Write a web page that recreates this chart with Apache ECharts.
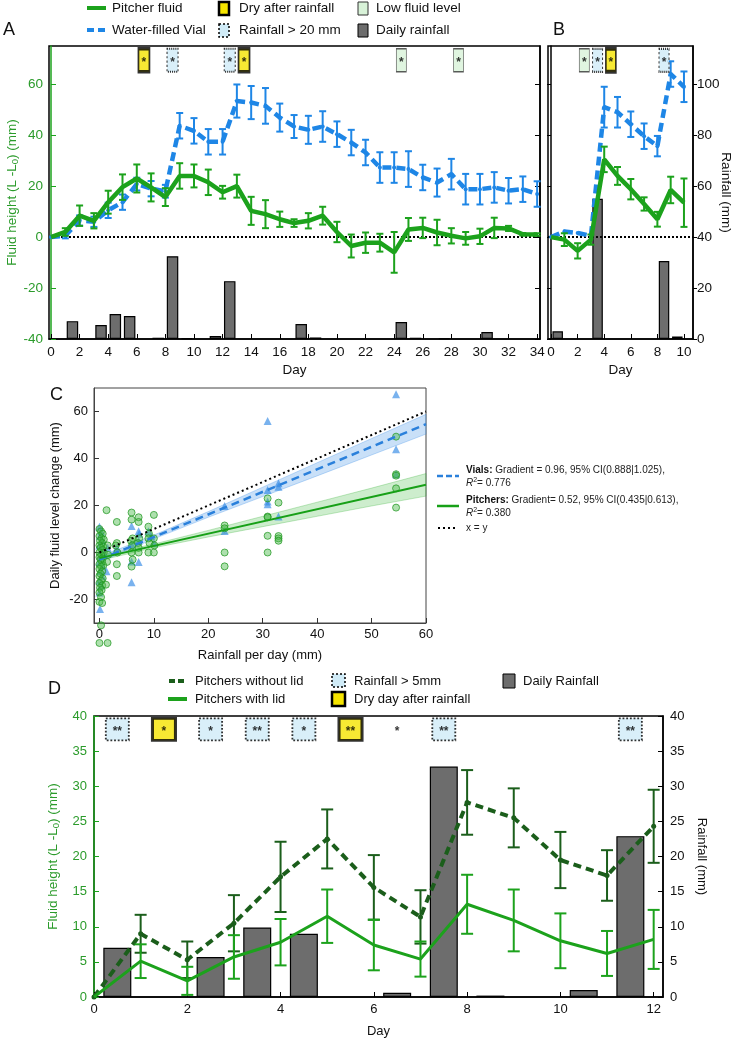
<!DOCTYPE html>
<html lang="en">
<head>
    <meta charset="UTF-8">
    <title>Pitcher fluid height and rainfall</title>
    <script src="https://cdn.jsdelivr.net/npm/echarts@6/dist/echarts.min.js"></script>
    <style>
        html, body { margin: 0; padding: 0; background: #fff; }
        #chart { width: 737px; height: 1041px; }
    </style>
</head>
<body>
<div id="chart"></div>
<script>
    // ---------- panel A : 34 day field record ----------
    var daysA = [0,1,2,3,4,5,6,7,8,9,10,11,12,13,14,15,16,17,18,19,20,21,22,23,24,25,26,27,28,29,30,31,32,33,34];
    var pitcherA = [0,2,8.4,6.4,13.7,19.6,23,19.5,15.7,24,24,21.5,17.6,20,10.3,9,7,5.5,6.4,8.4,2,-3.5,-2.2,-2.2,-6,3,3.6,1.8,0.5,-0.5,0.3,3.6,3.4,1.1,1];
    var pitcherErrA = [0,1.5,4,3,4.5,5,5.5,5.5,3.5,5,4.5,5,2.5,4.5,5.5,5.5,3,1.5,3,3.5,4,4.5,4,3.5,8,4.5,4,5,3,2.5,3,4,1,0.5,0.5];
    var vialA = [0,0.5,6.5,6,10.5,13.7,20.8,19,18,43.7,41.7,37.4,37.4,53.4,52.8,51.5,46.9,43.4,42.1,43.4,40.4,37.1,33.2,27.3,27.3,26.7,23.4,21.4,24.7,18.8,18.8,19.5,18.2,18.8,16.9];
    var vialErrA = [0,1,2,2,3,3,2.5,3,2.5,5,5,5,5,6.5,6.5,7,5.5,4.5,5.5,6,5,5,5,6,6,7,5,5.5,6,6,6,6,5,5,5];
    var rainDaysA = [1.5,3.5,4.5,5.5,7.5,8.5,9.5,11.5,12.5,17.5,18.5,24.5,25.5,27.5,30.5];
    var rainA = [7,5.5,9.8,9,0.5,32.5,0.3,1.2,22.7,5.9,0.6,6.7,0.5,0.2,2.7];
    var dryDaysA = [6.5, 13.5];
    var bigRainDaysA = [8.5, 12.5];
    var lowLevelDaysA = [24.5, 28.5];

    // ---------- panel B : 10 day record ----------
    var daysB = [0,1,2,3,4,5,6,7,8,9,10];
    var pitcherB = [0,-1,-5.4,-1,30.5,24,18.8,13,7,18.5,13.5];
    var pitcherErrB = [0,2.5,3,2,5,3.5,4,2.6,2.9,5.2,9.5];
    var vialB = [0,2.2,1.6,0.5,51,49,44.3,39.6,35.7,64,59];
    var vialErrB = [0,0,0,0,8,6,5,5,4,5,6];
    var rainDaysB = [0.5,3.5,8.5,9.5];
    var rainB = [3,55,30.6,1];
    var lowLevelDaysB = [2.5];
    var bigRainDaysB = [3.5, 8.5];
    var dryDaysB = [4.5];

    // ---------- panel C : daily change vs rainfall ----------
    var pitchX = [0,0.3,0.6,0,0.4,0.8,0.1,0.5,0,0.7,0.2,0.5,0,0.8,0.3,0,0.6,0.2,0.5,0,0.7,0.3,0,0.5,0.2,0,0.6,0.3,0,0.5,0.1,0.4,0,0.3,0,0.5,0.3,0,1.5,
        1.3,1.5,1.6,1.4,1.2,
        3.2,3.2,3.0,3.3,3.2,3.2,
        5.9,5.9,6.1,5.8,6.0,5.9,6.1,5.9,
        7.2,7.2,7.3,7.1,7.2,7.2,
        9,9.1,9,9.2,9,10,10,10.1,10,
        23,23,23,23,
        30.9,30.9,30.9,30.9,30.9,
        32.9,32.9,32.9,32.9,
        54.5,54.5,54.5,54.5,54.5];
    var pitchY = [10,9,8,7,6,5.5,5,4,3,2.5,2,1,0,0,-1,-2,-2.5,-3,-4,-5,-5.5,-6,-7,-8,-9,-10,-11,-12,-13,-14,-15,-16,-17,-19,-21,-21.5,-31,-38.5,-38.5,
        18,3,-1,-4,-13.7,
        13,4,3,0,-5,-10,
        17,14,6,5,3,0,-3,-6,
        15,13,6,4,2,0,
        11,8,6,4,0,16,6,3,0,
        11.5,10.3,0,-5.9,
        23,15.3,15,7.1,0,
        21.2,7,6,5,
        49.3,33.3,32.7,27.3,19.1];
    var vialX = [0,0.3,0.1,0.5,0,0.4,0.2,0,0.6,0.2,0.5,0,0.3,0,0.1,1.5,1.3,
        3.2,
        5.9,5.9,5.9,5.9,
        7.2,7.3,7.2,7.2,
        9,9.5,10,
        23,23,
        30.9,30.9,30.9,30.9,
        32.9,32.9,32.9,
        54.5,54.5,54.5];
    var vialY = [11,9,7,5,3,1,-2,-4,-6,-8,-10,-12,-14,-17,-24,2,-8,
        2,
        11.3,3.5,-3.8,-12.7,
        9,8,5,-4,
        9,7,4,
        19.8,9.2,
        56,26.6,21.7,20.5,
        29.5,28,15.3,
        67.3,43.9,33.3];
    var fitX = [0, 60];
    var vialFitY = [-3, 54.6];
    var pitchFitY = [-2.4, 28.8];
    var identityY = [0, 60];
    var bandX = [0,10,20,30,40,50,60];
    var vialBandLo = [-4.2,5.8,15,23.8,32.6,41.5,50.4];
    var vialBandHi = [-1.8,7.4,17.4,27.8,38.2,48.5,58.8];
    var pitchBandLo = [-3.4,2.0,6.6,11,15.4,19.8,24];
    var pitchBandHi = [-1.4,3.6,9.4,15.4,21.4,27.4,33.6];

    // ---------- panel D : lid experiment ----------
    var daysD = [0,1,2,3,4,5,6,7,8,9,10,11,12];
    var noLid = [0,9,5.3,10.5,17.1,22.5,15.6,11.4,27.7,25.5,19.5,17.3,24.3];
    var noLidErr = [0,2.7,2.6,4,5,4.2,4.6,3.8,4.6,4.2,4,3.6,5.2];
    var withLid = [0,5.1,2.3,5.7,7.8,11.5,7.4,5.4,13.2,10.9,8,6.2,8.2];
    var withLidErr = [0,2.4,2,3.1,3.3,3.8,3.6,2.5,4.2,4.4,3.9,3.2,4.2];
    var rainDaysD = [0.5,2.5,3.5,4.5,6.5,7.5,8.5,10.5,11.5];
    var rainD = [7,5.7,9.9,9,0.6,32.8,0.2,1,22.9];
    var rainBoxDaysD = [0.5,2.5,3.5,4.5,7.5,11.5];
    var rainBoxStarsD = ['**','*','**','*','**','**'];
    var dryBoxDaysD = [1.5,5.5];
    var dryBoxStarsD = ['*','**'];
    var plainStarDaysD = [6.5];

    // tick labels
    var ticksA = [0,2,4,6,8,10,12,14,16,18,20,22,24,26,28,30,32,34];
    var ticksB = [0,2,4,6,8,10];
    var fluidTicksAB = [-40,-20,0,20,40,60];
    var rainTicksAB = [0,20,40,60,80,100];
    var ticksCx = [0,10,20,30,40,50,60];
    var ticksCy = [-20,0,20,40,60];
    var ticksD = [0,2,4,6,8,10,12];

    var FONT = "'Liberation Sans', 'DejaVu Sans', sans-serif";
    var GREEN = '#1ca21c';
    var GREEN_TEXT = '#2b9b2b';
    var BLUE = '#1e86e6';
    var DARK_GREEN = '#1b5e1b';
    var GREY = '#6d6d6d';
    var YELLOW = '#f5e400';
    var PALE_BLUE = '#d0ebf7';
    var PALE_GREEN = '#d8f2d8';
    var MARK_LEVEL_AB = 69.4;
    var MARK_LEVEL_D = 38.1;

    function pairs(xs, ys) {
        return xs.map(function (x, i) { return [x, ys[i]]; });
    }
    function triples(xs, ys, zs) {
        return xs.map(function (x, i) { return [x, ys[i], zs[i]]; });
    }
    function marks(xs, level, stars) {
        return xs.map(function (x, i) { return [x, level, stars ? stars[i] : '*']; });
    }

    // vertical error bar with caps
    function errorRender(cap, width) {
        return function (params, api) {
            var x = api.value(0), y = api.value(1), e = api.value(2);
            if (!e) return { type: 'group', children: [] };
            var top = api.coord([x, y + e]);
            var bot = api.coord([x, y - e]);
            var st = { stroke: api.visual('color'), lineWidth: width };
            return {
                type: 'group',
                children: [
                    { type: 'line', shape: { x1: top[0], y1: top[1], x2: bot[0], y2: bot[1] }, style: st },
                    { type: 'line', shape: { x1: top[0] - cap, y1: top[1], x2: top[0] + cap, y2: top[1] }, style: st },
                    { type: 'line', shape: { x1: bot[0] - cap, y1: bot[1], x2: bot[0] + cap, y2: bot[1] }, style: st }
                ]
            };
        };
    }
    // confidence band polygon
    function bandRender(xs, lo, hi, edge) {
        return function (params, api) {
            if (params.dataIndex !== 0) return { type: 'group', children: [] };
            var pts = [], i;
            for (i = 0; i < xs.length; i++) pts.push(api.coord([xs[i], hi[i]]));
            for (i = xs.length - 1; i >= 0; i--) pts.push(api.coord([xs[i], lo[i]]));
            return { type: 'polygon', shape: { points: pts }, style: { fill: api.visual('color'), stroke: edge, lineWidth: 0.8 } };
        };
    }
    function errSeries(xi, yi, data, color, cap, width, z) {
        return {
            type: 'custom', xAxisIndex: xi, yAxisIndex: yi, data: data,
            renderItem: errorRender(cap, width), itemStyle: { color: color },
            encode: { x: 0, y: [1] }, z: z, silent: true
        };
    }
    function markSeries(xi, yi, data, size, style, fontSize) {
        return {
            type: 'scatter', xAxisIndex: xi, yAxisIndex: yi, data: data,
            symbol: 'rect', symbolSize: size, itemStyle: style, z: 8, silent: true,
            label: {
                show: true, position: 'inside', offset: [0, 2],
                formatter: function (p) { return p.value[2]; },
                color: '#000', fontSize: fontSize, fontWeight: 'bold', fontFamily: FONT
            }
        };
    }
    function barSeries(xi, yi, data, w) {
        return {
            type: 'bar', xAxisIndex: xi, yAxisIndex: yi, data: data, barWidth: w,
            itemStyle: { color: GREY, borderColor: '#000', borderWidth: 1.2 }, z: 1, silent: true
        };
    }

    var fluidName = '{a|Fluid height (L -L}{s|0}{a|) (mm)}';
    var fluidNameStyle = {
        color: GREEN_TEXT,
        rich: {
            a: { fontSize: 13.5, color: GREEN_TEXT, fontFamily: FONT },
            s: { fontSize: 9.5, color: GREEN_TEXT, fontFamily: FONT, padding: [7, 0, 0, 0] }
        }
    };

    var chart = echarts.init(document.getElementById('chart'));
    var option = {
        animation: false,
        textStyle: { fontFamily: FONT, color: '#111' },
        grid: [
            { left: 49, top: 46, width: 491, height: 293, show: true, borderColor: '#000', borderWidth: 1.5, containLabel: false, outerBoundsMode: 'none' },
            { left: 548, top: 46, width: 145, height: 293, show: true, borderColor: '#000', borderWidth: 1.5, containLabel: false, outerBoundsMode: 'none' },
            { left: 94, top: 388, width: 332, height: 235, show: true, borderColor: '#444', borderWidth: 1, containLabel: false, outerBoundsMode: 'none' },
            { left: 94, top: 716, width: 569, height: 281, show: true, borderColor: '#000', borderWidth: 1.5, containLabel: false, outerBoundsMode: 'none' }
        ],
        xAxis: [
            {
                gridIndex: 0, type: 'value', min: -0.14, max: 34.2,
                axisLine: { onZero: false, lineStyle: { color: '#000', width: 1.5 } },
                axisTick: { inside: true, length: 5, customValues: ticksA, lineStyle: { color: '#000' } },
                axisLabel: { customValues: ticksA, fontSize: 13.5, color: '#111', margin: 6 },
                splitLine: { show: false },
                name: 'Day', nameLocation: 'middle', nameGap: 24, nameMoveOverlap: false,
                nameTextStyle: { fontSize: 13.5, color: '#111' }
            },
            {
                gridIndex: 1, type: 'value', min: -0.23, max: 10.68,
                axisLine: { onZero: false, lineStyle: { color: '#000', width: 1.5 } },
                axisTick: { inside: true, length: 5, customValues: ticksB, lineStyle: { color: '#000' } },
                axisLabel: { customValues: ticksB, fontSize: 13.5, color: '#111', margin: 6 },
                splitLine: { show: false },
                name: 'Day', nameLocation: 'middle', nameGap: 24, nameMoveOverlap: false,
                nameTextStyle: { fontSize: 13.5, color: '#111' }
            },
            {
                gridIndex: 2, type: 'value', min: -1, max: 60,
                axisLine: { onZero: false, lineStyle: { color: '#444', width: 1 } },
                axisTick: { inside: true, length: 5, customValues: ticksCx, lineStyle: { color: '#333' } },
                axisLabel: { customValues: ticksCx, fontSize: 13, color: '#111', margin: 5 },
                splitLine: { show: false },
                name: 'Rainfall per day (mm)', nameLocation: 'middle', nameGap: 26, nameMoveOverlap: false,
                nameTextStyle: { fontSize: 13, color: '#111' }
            },
            {
                gridIndex: 3, type: 'value', min: 0, max: 12.2,
                axisLine: { onZero: false, lineStyle: { color: '#000', width: 1.5 } },
                axisTick: { inside: true, length: 5, customValues: ticksD, lineStyle: { color: '#000' } },
                axisLabel: { customValues: ticksD, fontSize: 13, color: '#111', margin: 6 },
                splitLine: { show: false },
                name: 'Day', nameLocation: 'middle', nameGap: 28, nameMoveOverlap: false,
                nameTextStyle: { fontSize: 13, color: '#111' }
            }
        ],
        yAxis: [
            { // 0: A fluid
                gridIndex: 0, type: 'value', min: -40, max: 75, position: 'left',
                axisLine: { show: true, lineStyle: { color: GREEN, width: 1.5 } },
                axisTick: { inside: true, length: 5, customValues: fluidTicksAB, lineStyle: { color: GREEN } },
                axisLabel: { customValues: fluidTicksAB, fontSize: 13.5, color: GREEN_TEXT, margin: 6 },
                splitLine: { show: false },
                name: fluidName, nameLocation: 'middle', nameGap: 28.5, nameRotate: 90, nameMoveOverlap: false,
                nameTextStyle: fluidNameStyle
            },
            { // 1: A rainfall (no labels)
                gridIndex: 0, type: 'value', min: 0, max: 115, position: 'right',
                axisLine: { show: true, lineStyle: { color: '#000', width: 1.5 } },
                axisTick: { inside: true, length: 5, customValues: rainTicksAB, lineStyle: { color: '#000' } },
                axisLabel: { show: false },
                splitLine: { show: false }
            },
            { // 2: B fluid (no labels)
                gridIndex: 1, type: 'value', min: -40, max: 75, position: 'left',
                axisLine: { show: true, lineStyle: { color: '#000', width: 1.5 } },
                axisTick: { inside: false, length: 4, customValues: fluidTicksAB, lineStyle: { color: '#000' } },
                axisLabel: { show: false },
                splitLine: { show: false }
            },
            { // 3: B rainfall
                gridIndex: 1, type: 'value', min: 0, max: 115, position: 'right',
                axisLine: { show: true, lineStyle: { color: '#000', width: 1.5 } },
                axisTick: { inside: false, length: 4, customValues: rainTicksAB, lineStyle: { color: '#000' } },
                axisLabel: { customValues: rainTicksAB, fontSize: 13.5, color: '#111', margin: 4 },
                splitLine: { show: false },
                name: 'Rainfall (mm)', nameLocation: 'middle', nameGap: 26, nameRotate: -90, nameMoveOverlap: false,
                nameTextStyle: { fontSize: 13.5, color: '#111' }
            },
            { // 4: C
                gridIndex: 2, type: 'value', min: -30, max: 70,
                axisLine: { show: true, onZero: false, lineStyle: { color: '#444', width: 1 } },
                axisTick: { inside: true, length: 5, customValues: ticksCy, lineStyle: { color: '#333' } },
                axisLabel: { customValues: ticksCy, fontSize: 13, color: '#111', margin: 6 },
                splitLine: { show: false },
                name: 'Daily fluid level change (mm)', nameLocation: 'middle', nameGap: 32, nameRotate: 90, nameMoveOverlap: false,
                nameTextStyle: { fontSize: 13, color: '#111' }
            },
            { // 5: D fluid
                gridIndex: 3, type: 'value', min: 0, max: 40, interval: 5, position: 'left',
                axisLine: { show: true, lineStyle: { color: GREEN, width: 1.5 } },
                axisTick: { inside: true, length: 5, lineStyle: { color: GREEN } },
                axisLabel: { fontSize: 13, color: GREEN_TEXT, margin: 7 },
                splitLine: { show: false },
                name: fluidName, nameLocation: 'middle', nameGap: 32.5, nameRotate: 90, nameMoveOverlap: false,
                nameTextStyle: fluidNameStyle
            },
            { // 6: D rainfall
                gridIndex: 3, type: 'value', min: 0, max: 40, interval: 5, position: 'right',
                axisLine: { show: true, lineStyle: { color: '#000', width: 1.5 } },
                axisTick: { inside: true, length: 5, lineStyle: { color: '#000' } },
                axisLabel: { fontSize: 13, color: '#111', margin: 7 },
                splitLine: { show: false },
                name: 'Rainfall (mm)', nameLocation: 'middle', nameGap: 32, nameRotate: -90, nameMoveOverlap: false,
                nameTextStyle: { fontSize: 13, color: '#111' }
            }
        ],
        series: [
            // ----- A -----
            barSeries(0, 1, pairs(rainDaysA, rainA), 11.5),
            {
                type: 'line', xAxisIndex: 0, yAxisIndex: 0, data: pairs(daysA, vialA),
                symbol: 'circle', symbolSize: 4, itemStyle: { color: BLUE },
                lineStyle: { color: BLUE, width: 4.5, type: [9, 5] }, z: 3, silent: true
            },
            errSeries(0, 0, triples(daysA, vialA, vialErrA), BLUE, 3.5, 2, 3),
            {
                type: 'line', xAxisIndex: 0, yAxisIndex: 0, data: pairs(daysA, pitcherA),
                showSymbol: false, lineStyle: { color: GREEN, width: 4.5 }, z: 4, silent: true,
                markLine: {
                    silent: true, symbol: ['none', 'none'], label: { show: false },
                    lineStyle: { color: '#000', type: 'dotted', width: 2 }, data: [{ yAxis: 0 }], z: 2
                }
            },
            errSeries(0, 0, triples(daysA, pitcherA, pitcherErrA), GREEN, 3.5, 2, 4),
            markSeries(0, 0, marks(dryDaysA, MARK_LEVEL_AB), [11, 23], { color: YELLOW, borderColor: '#000', borderWidth: 2.5 }, 12),
            markSeries(0, 0, marks(bigRainDaysA, MARK_LEVEL_AB), [11, 23], { color: PALE_BLUE, borderColor: '#000', borderWidth: 1.5, borderType: 'dotted' }, 12),
            markSeries(0, 0, marks(lowLevelDaysA, MARK_LEVEL_AB), [10, 23], { color: PALE_GREEN, borderColor: '#333', borderWidth: 1 }, 12),

            // ----- B -----
            barSeries(1, 3, pairs(rainDaysB, rainB), 10.5),
            {
                type: 'line', xAxisIndex: 1, yAxisIndex: 2, data: pairs(daysB, vialB),
                symbol: 'circle', symbolSize: 4, itemStyle: { color: BLUE },
                lineStyle: { color: BLUE, width: 4.5, type: [9, 5] }, z: 3, silent: true
            },
            errSeries(1, 2, triples(daysB, vialB, vialErrB), BLUE, 3.5, 2, 3),
            {
                type: 'line', xAxisIndex: 1, yAxisIndex: 2, data: pairs(daysB, pitcherB),
                showSymbol: false, lineStyle: { color: GREEN, width: 4.5 }, z: 4, silent: true,
                markLine: {
                    silent: true, symbol: ['none', 'none'], label: { show: false },
                    lineStyle: { color: '#000', type: 'dotted', width: 2 }, data: [{ yAxis: 0 }], z: 2
                }
            },
            errSeries(1, 2, triples(daysB, pitcherB, pitcherErrB), GREEN, 3.5, 2, 4),
            markSeries(1, 2, marks(lowLevelDaysB, MARK_LEVEL_AB), [10, 23], { color: PALE_GREEN, borderColor: '#333', borderWidth: 1 }, 12),
            markSeries(1, 2, marks(bigRainDaysB, MARK_LEVEL_AB), [10, 23], { color: PALE_BLUE, borderColor: '#000', borderWidth: 1.5, borderType: 'dotted' }, 12),
            markSeries(1, 2, marks(dryDaysB, MARK_LEVEL_AB), [10, 23], { color: YELLOW, borderColor: '#000', borderWidth: 2.5 }, 12),

            // ----- C -----
            {
                type: 'custom', xAxisIndex: 2, yAxisIndex: 4, data: triples(bandX, pitchBandLo, pitchBandHi),
                renderItem: bandRender(bandX, pitchBandLo, pitchBandHi, 'rgba(40,170,40,0.35)'),
                itemStyle: { color: 'rgba(90,195,90,0.3)' }, encode: { x: 0, y: [1, 2] }, z: 1, silent: true
            },
            {
                type: 'custom', xAxisIndex: 2, yAxisIndex: 4, data: triples(bandX, vialBandLo, vialBandHi),
                renderItem: bandRender(bandX, vialBandLo, vialBandHi, 'rgba(40,130,230,0.35)'),
                itemStyle: { color: 'rgba(100,165,235,0.35)' }, encode: { x: 0, y: [1, 2] }, z: 1, silent: true
            },
            {
                type: 'scatter', xAxisIndex: 2, yAxisIndex: 4, data: pairs(vialX, vialY),
                symbol: 'triangle', symbolSize: 8, clip: false,
                itemStyle: { color: 'rgba(45,135,228,0.8)' }, z: 2, silent: true
            },
            {
                type: 'scatter', xAxisIndex: 2, yAxisIndex: 4, data: pairs(pitchX, pitchY),
                symbol: 'circle', symbolSize: 7, clip: false,
                itemStyle: { color: 'rgba(70,185,70,0.55)', borderColor: 'rgba(30,150,30,0.9)', borderWidth: 1 }, z: 2, silent: true
            },
            {
                type: 'line', xAxisIndex: 2, yAxisIndex: 4, data: pairs(fitX, identityY),
                showSymbol: false, lineStyle: { color: '#000', width: 2, type: [2, 3] }, z: 4, silent: true
            },
            {
                type: 'line', xAxisIndex: 2, yAxisIndex: 4, data: pairs(fitX, vialFitY),
                showSymbol: false, lineStyle: { color: '#2a80db', width: 2.5, type: [8, 5] }, z: 4, silent: true
            },
            {
                type: 'line', xAxisIndex: 2, yAxisIndex: 4, data: pairs(fitX, pitchFitY),
                showSymbol: false, lineStyle: { color: '#17a017', width: 2 }, z: 4, silent: true
            },

            // ----- D -----
            barSeries(3, 6, pairs(rainDaysD, rainD), 28),
            {
                type: 'line', xAxisIndex: 3, yAxisIndex: 5, data: pairs(daysD, noLid),
                symbol: 'circle', symbolSize: 5, itemStyle: { color: DARK_GREEN },
                lineStyle: { color: DARK_GREEN, width: 4, type: [8, 5] }, z: 3, silent: true
            },
            errSeries(3, 5, triples(daysD, noLid, noLidErr), DARK_GREEN, 6, 2, 3),
            {
                type: 'line', xAxisIndex: 3, yAxisIndex: 5, data: pairs(daysD, withLid),
                showSymbol: false, lineStyle: { color: GREEN, width: 3 }, z: 4, silent: true
            },
            errSeries(3, 5, triples(daysD, withLid, withLidErr), GREEN, 6, 2, 4),
            markSeries(3, 5, marks(rainBoxDaysD, MARK_LEVEL_D, rainBoxStarsD), [23, 22], { color: PALE_BLUE, borderColor: '#000', borderWidth: 1.8, borderType: 'dotted' }, 12),
            markSeries(3, 5, marks(dryBoxDaysD, MARK_LEVEL_D, dryBoxStarsD), [23, 22], { color: YELLOW, borderColor: '#000', borderWidth: 3 }, 12),
            markSeries(3, 5, marks(plainStarDaysD, MARK_LEVEL_D), 1, { color: 'transparent' }, 12)
        ],
        graphic: [
            // panel letters
            { type: 'text', style: { text: 'A', x: 3, y: 30, fontSize: 18, fontFamily: FONT, fill: '#111', verticalAlign: 'middle', textVerticalAlign: 'middle' } },
            { type: 'text', style: { text: 'B', x: 553, y: 30, fontSize: 18, fontFamily: FONT, fill: '#111', verticalAlign: 'middle', textVerticalAlign: 'middle' } },
            { type: 'text', style: { text: 'C', x: 50, y: 395, fontSize: 18, fontFamily: FONT, fill: '#111', verticalAlign: 'middle', textVerticalAlign: 'middle' } },
            { type: 'text', style: { text: 'D', x: 48, y: 689, fontSize: 18, fontFamily: FONT, fill: '#111', verticalAlign: 'middle', textVerticalAlign: 'middle' } },

            // legend A/B
            { type: 'line', shape: { x1: 87, y1: 8, x2: 106, y2: 8 }, style: { stroke: GREEN, lineWidth: 4 } },
            { type: 'text', style: { text: 'Pitcher fluid', x: 112, y: 8, fontSize: 13.5, fontFamily: FONT, fill: '#111', verticalAlign: 'middle', textVerticalAlign: 'middle' } },
            { type: 'line', shape: { x1: 87, y1: 30, x2: 106, y2: 30 }, style: { stroke: BLUE, lineWidth: 4, lineDash: [7, 4] } },
            { type: 'text', style: { text: 'Water-filled Vial', x: 112, y: 30, fontSize: 13.5, fontFamily: FONT, fill: '#111', verticalAlign: 'middle', textVerticalAlign: 'middle' } },
            { type: 'rect', shape: { x: 219, y: 2, width: 10, height: 13 }, style: { fill: YELLOW, stroke: '#000', lineWidth: 2.5 } },
            { type: 'text', style: { text: 'Dry after rainfall', x: 239, y: 8, fontSize: 13.5, fontFamily: FONT, fill: '#111', verticalAlign: 'middle', textVerticalAlign: 'middle' } },
            { type: 'rect', shape: { x: 219, y: 24, width: 10, height: 13 }, style: { fill: PALE_BLUE, stroke: '#000', lineWidth: 1.5, lineDash: [2, 2] } },
            { type: 'text', style: { text: 'Rainfall > 20 mm', x: 239, y: 30, fontSize: 13.5, fontFamily: FONT, fill: '#111', verticalAlign: 'middle', textVerticalAlign: 'middle' } },
            { type: 'rect', shape: { x: 358, y: 2, width: 10, height: 13 }, style: { fill: PALE_GREEN, stroke: '#333', lineWidth: 1 } },
            { type: 'text', style: { text: 'Low fluid level', x: 376, y: 8, fontSize: 13.5, fontFamily: FONT, fill: '#111', verticalAlign: 'middle', textVerticalAlign: 'middle' } },
            { type: 'rect', shape: { x: 358, y: 24, width: 10, height: 13 }, style: { fill: GREY, stroke: '#000', lineWidth: 1 } },
            { type: 'text', style: { text: 'Daily rainfall', x: 376, y: 30, fontSize: 13.5, fontFamily: FONT, fill: '#111', verticalAlign: 'middle', textVerticalAlign: 'middle' } },

            // legend C
            { type: 'line', shape: { x1: 437, y1: 476, x2: 459, y2: 476 }, style: { stroke: '#2a80db', lineWidth: 2.5, lineDash: [6, 3] } },
            { type: 'text', style: { text: '{b|Vials:} Gradient = 0.96, 95% CI(0.888|1.025),', x: 466, y: 470, fontSize: 10, fontFamily: FONT, fill: '#222', verticalAlign: 'middle', textVerticalAlign: 'middle', rich: { b: { fontWeight: 'bold', fontSize: 10, fontFamily: FONT, fill: '#111' } } } },
            { type: 'text', style: { text: '{i|R}{p|2}= 0.776', x: 466, y: 483, fontSize: 10, fontFamily: FONT, fill: '#222', verticalAlign: 'middle', textVerticalAlign: 'middle', rich: { i: { fontStyle: 'italic', fontSize: 10, fontFamily: FONT }, p: { fontSize: 7, fontFamily: FONT, padding: [0, 0, 6, 0] } } } },
            { type: 'line', shape: { x1: 437, y1: 506, x2: 459, y2: 506 }, style: { stroke: '#17a017', lineWidth: 2.5 } },
            { type: 'text', style: { text: '{b|Pitchers:} Gradient= 0.52, 95% CI(0.435|0.613),', x: 466, y: 500.5, fontSize: 10, fontFamily: FONT, fill: '#222', verticalAlign: 'middle', textVerticalAlign: 'middle', rich: { b: { fontWeight: 'bold', fontSize: 10, fontFamily: FONT, fill: '#111' } } } },
            { type: 'text', style: { text: '{i|R}{p|2}= 0.380', x: 466, y: 513, fontSize: 10, fontFamily: FONT, fill: '#222', verticalAlign: 'middle', textVerticalAlign: 'middle', rich: { i: { fontStyle: 'italic', fontSize: 10, fontFamily: FONT }, p: { fontSize: 7, fontFamily: FONT, padding: [0, 0, 6, 0] } } } },
            { type: 'line', shape: { x1: 438, y1: 528, x2: 457, y2: 528 }, style: { stroke: '#000', lineWidth: 2, lineDash: [2, 3] } },
            { type: 'text', style: { text: 'x = y', x: 466, y: 528, fontSize: 10, fontFamily: FONT, fill: '#222', verticalAlign: 'middle', textVerticalAlign: 'middle' } },

            // legend D
            { type: 'line', shape: { x1: 169, y1: 681, x2: 186, y2: 681 }, style: { stroke: DARK_GREEN, lineWidth: 4, lineDash: [6, 3] } },
            { type: 'text', style: { text: 'Pitchers without lid', x: 195, y: 681, fontSize: 13, fontFamily: FONT, fill: '#111', verticalAlign: 'middle', textVerticalAlign: 'middle' } },
            { type: 'line', shape: { x1: 168, y1: 699, x2: 187, y2: 699 }, style: { stroke: GREEN, lineWidth: 4 } },
            { type: 'text', style: { text: 'Pitchers with lid', x: 195, y: 699, fontSize: 13, fontFamily: FONT, fill: '#111', verticalAlign: 'middle', textVerticalAlign: 'middle' } },
            { type: 'rect', shape: { x: 332, y: 674, width: 13, height: 13 }, style: { fill: PALE_BLUE, stroke: '#000', lineWidth: 1.5, lineDash: [2, 2] } },
            { type: 'text', style: { text: 'Rainfall > 5mm', x: 354, y: 681, fontSize: 13, fontFamily: FONT, fill: '#111', verticalAlign: 'middle', textVerticalAlign: 'middle' } },
            { type: 'rect', shape: { x: 332, y: 692, width: 13, height: 14 }, style: { fill: YELLOW, stroke: '#000', lineWidth: 2.5 } },
            { type: 'text', style: { text: 'Dry day after rainfall', x: 354, y: 699, fontSize: 13, fontFamily: FONT, fill: '#111', verticalAlign: 'middle', textVerticalAlign: 'middle' } },
            { type: 'rect', shape: { x: 503, y: 674, width: 12, height: 14 }, style: { fill: GREY, stroke: '#000', lineWidth: 1 } },
            { type: 'text', style: { text: 'Daily Rainfall', x: 523, y: 681, fontSize: 13, fontFamily: FONT, fill: '#111', verticalAlign: 'middle', textVerticalAlign: 'middle' } }
        ]
    };
    chart.setOption(option);
</script>
</body>
</html>
